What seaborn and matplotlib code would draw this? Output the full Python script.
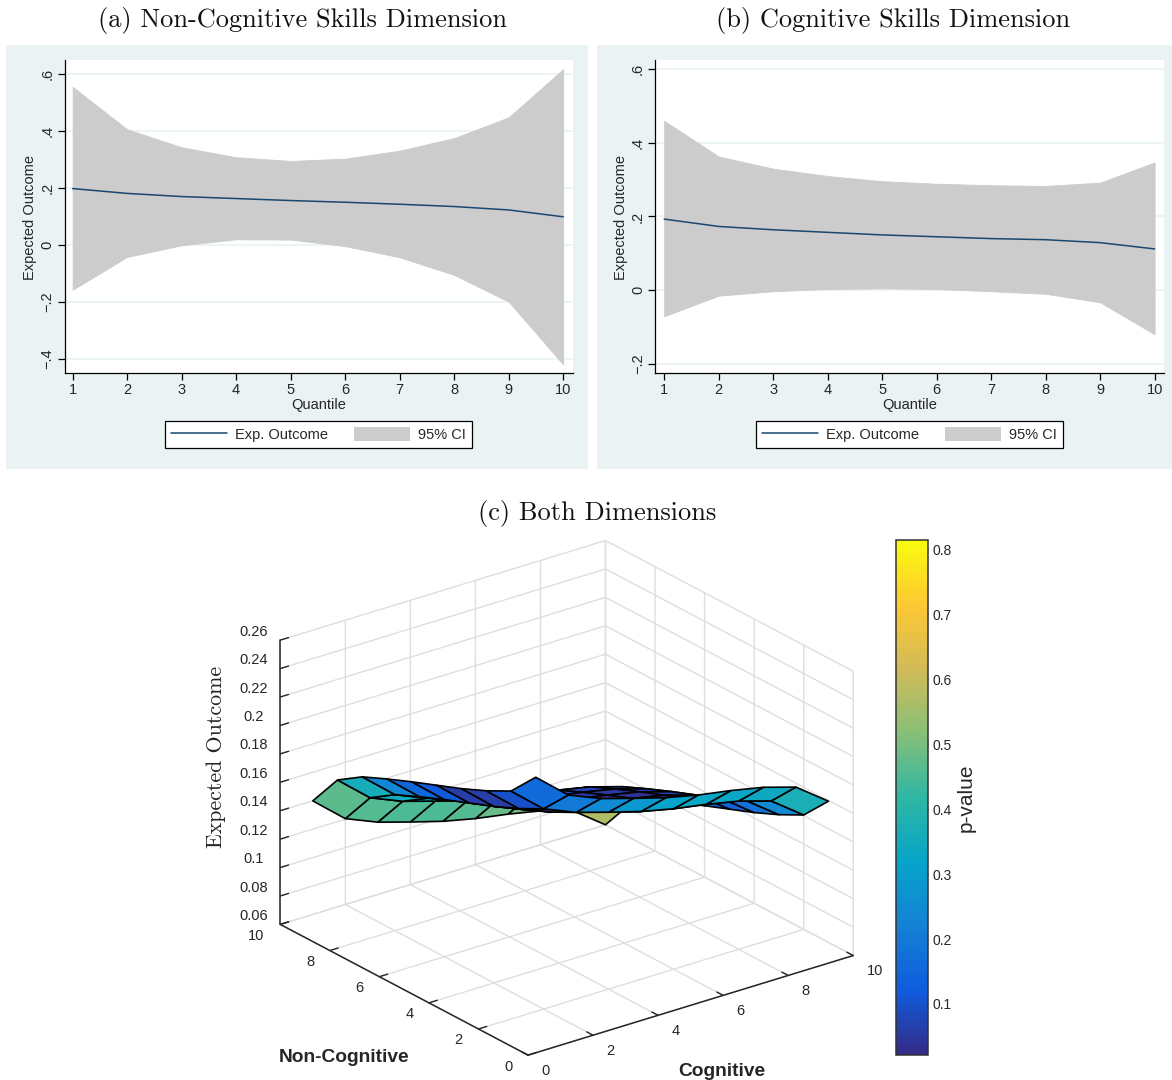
import numpy as np
import pandas as pd
import matplotlib
matplotlib.use("Agg")
import matplotlib.pyplot as plt
import seaborn as sns
from matplotlib.cm import ScalarMappable
from matplotlib.colors import LinearSegmentedColormap, Normalize
from matplotlib.patches import Patch, Rectangle

# Data
quantiles = [1, 2, 3, 4, 5, 6, 7, 8, 9, 10]

noncog_mean = [.197, .180, .169, .162, .155, .149, .142, .134, .122, .098]
noncog_upper = [.554, .405, .342, .307, .294, .302, .330, .374, .447, .616]
noncog_lower = [-.158, -.043, -.002, .019, .018, -.005, -.044, -.106, -.200, -.420]

cog_mean = [.193, .173, .164, .157, .150, .145, .140, .137, .129, .112]
cog_upper = [.460, .363, .330, .310, .296, .289, .285, .283, .292, .347]
cog_lower = [-.071, -.015, -.003, .003, .005, .003, -.003, -.010, -.033, -.120]

# surface heights, rows = non-cognitive 1..10, columns = cognitive 1..10
surface_z = [
    [.2393, .2198, .2103, .2034, .1969, .1918, .1879, .1832, .1763, .1594],
    [.2204, .2009, .1914, .1845, .1780, .1729, .1690, .1643, .1574, .1405],
    [.2114, .1919, .1824, .1755, .1690, .1639, .1600, .1553, .1484, .1315],
    [.2037, .1842, .1747, .1678, .1613, .1562, .1523, .1476, .1407, .1238],
    [.1969, .1774, .1679, .1610, .1545, .1494, .1455, .1408, .1339, .1170],
    [.1901, .1706, .1611, .1542, .1477, .1426, .1387, .1340, .1271, .1102],
    [.1829, .1634, .1539, .1470, .1405, .1354, .1315, .1268, .1199, .1030],
    [.1752, .1557, .1462, .1393, .1328, .1277, .1238, .1191, .1122, .0953],
    [.1638, .1443, .1348, .1279, .1214, .1163, .1124, .1077, .1008, .0839],
    [.1399, .1204, .1109, .1040, .0975, .0924, .0885, .0838, .0769, .0600],
]
# p-value of each surface cell
surface_p = [
    [.16, .20, .25, .29, .32, .33, .33, .34, .37],
    [.10, .04, .03, .04, .04, .05, .08, .16, .25],
    [.06, .03, .03, .03, .03, .04, .05, .09, .18],
    [.06, .05, .04, .03, .03, .03, .04, .07, .14],
    [.12, .10, .08, .05, .04, .03, .04, .06, .12],
    [.15, .15, .12, .09, .06, .05, .05, .07, .12],
    [.24, .24, .20, .15, .10, .08, .08, .10, .15],
    [.36, .35, .32, .27, .20, .16, .14, .16, .22],
    [.47, .46, .45, .45, .46, .48, .50, .53, .57],
]

y_ticks_a = [-.4, -.2, 0, .2, .4, .6]
y_ticks_b = [-.2, 0, .2, .4, .6]
y_labels_a = ["\u2212.4", "\u2212.2", "0", ".2", ".4", ".6"]
y_labels_b = ["\u2212.2", "0", ".2", ".4", ".6"]
grid_ticks = [0, 2, 4, 6, 8, 10]
z_ticks = [.06, .08, .10, .12, .14, .16, .18, .20, .22, .24, .26]
z_labels = ["0.06", "0.08", "0.1", "0.12", "0.14", "0.16", "0.18", "0.2", "0.22", "0.24", "0.26"]
p_ticks = [.1, .2, .3, .4, .5, .6, .7, .8]
p_labels = ["0.1", "0.2", "0.3", "0.4", "0.5", "0.6", "0.7", "0.8"]

W, H = 1172, 1080
PANEL_BG = "#eaf2f3"
NAVY = "#1a476f"
CI_GREY = "#cccccc"
TEXT = "#262626"

sns.set_theme(style="white")
plt.rcParams["font.family"] = ["Liberation Sans", "DejaVu Sans"]
plt.rcParams["grid.color"] = "#dedede"
plt.rcParams["grid.linewidth"] = 1.0
plt.rcParams["axes3d.grid"] = True

parula = LinearSegmentedColormap.from_list(
    "parula",
    ["#352a87", "#0f5cdd", "#1481d6", "#06a4ca", "#2eb7a4",
     "#87bf77", "#d1bb59", "#fec832", "#f9fb0e"],
)
p_norm = Normalize(vmin=.0215, vmax=.814)


def px_box(left, top, right, bottom):
    return [left / W, 1 - bottom / H, (right - left) / W, (bottom - top) / H]


def stata_panel(fig, bg, plot, xlim, ylim, mean, upper, lower, yticks, ylabels, legend_center, ylabel_x):
    fig.add_artist(Rectangle((bg[0] / W, 1 - bg[3] / H), (bg[2] - bg[0]) / W, (bg[3] - bg[1]) / H,
                             transform=fig.transFigure, color=PANEL_BG, lw=0, zorder=-5))
    ax = fig.add_axes(px_box(*plot))
    ax.set_facecolor("white")
    for y in yticks:
        ax.axhline(y, color=PANEL_BG, lw=1.2, zorder=0)
    ax.fill_between(quantiles, lower, upper, color=CI_GREY, lw=0.6, zorder=1)
    df = pd.DataFrame({"quantile": quantiles, "mean": mean})
    sns.lineplot(data=df, x="quantile", y="mean", color=NAVY, lw=1.1, ax=ax, errorbar=None, zorder=2)
    ax.set_xlim(*xlim)
    ax.set_ylim(*ylim)
    ax.set_xticks(quantiles)
    ax.set_yticks(yticks)
    ax.set_yticklabels(ylabels, rotation=90, va="center")
    ax.tick_params(axis="both", direction="out", length=5, width=0.9, color="black",
                   labelsize=10.5, labelcolor=TEXT, pad=2.5, left=True, bottom=True)
    for side in ["top", "right"]:
        ax.spines[side].set_visible(False)
    for side in ["left", "bottom"]:
        ax.spines[side].set_color("black")
        ax.spines[side].set_linewidth(0.9)
    ax.set_xlabel("Quantile", fontsize=10.5, color=TEXT, labelpad=0.3)
    ax.set_ylabel("")
    fig.text(ylabel_x / W, 1 - 217 / H, "Expected Outcome", rotation=90, fontsize=10.5,
             color=TEXT, ha="center", va="center")
    handles = [plt.Line2D([], [], color=NAVY, lw=1.1), Patch(color=CI_GREY, lw=0)]
    leg = ax.legend(handles, ["Exp. Outcome", "95% CI"], ncol=2, loc="center",
                    bbox_to_anchor=(legend_center[0] / W, 1 - legend_center[1] / H),
                    bbox_transform=fig.transFigure, fontsize=10.5, frameon=True, fancybox=False,
                    edgecolor="black", facecolor="white", framealpha=1, handlelength=3.85,
                    handleheight=1.05, handletextpad=0.55, columnspacing=1.8, borderpad=0.42,
                    borderaxespad=0)
    leg.get_frame().set_linewidth(0.9)
    for t in leg.get_texts():
        t.set_color(TEXT)
    return ax


fig = plt.figure(figsize=(W / 100, H / 100), dpi=100, facecolor="white")

stata_panel(fig, (6, 45, 588, 469), (64.7, 60, 573, 373), (.855, 10.18), (-.45, .648),
            noncog_mean, noncog_upper, noncog_lower, y_ticks_a, y_labels_a, (318.5, 434.5), 30)
stata_panel(fig, (597, 45, 1172, 469), (655.3, 60, 1163.5, 373), (.837, 10.163), (-.225, .625),
            cog_mean, cog_upper, cog_lower, y_ticks_b, y_labels_b, (909.5, 434.5), 621)

for x, y, txt in [(302, 20, "(a) Non-Cognitive Skills Dimension"),
                  (893, 20, "(b) Cognitive Skills Dimension"),
                  (597, 514, "(c) Both Dimensions")]:
    fig.text(x / W, 1 - y / H, txt, family="cmr10", fontsize=19, color="#111111", ha="center", va="center")

# 3D surface
ax3 = fig.add_axes(px_box(239.6, 487.9, 876.7, 1125), projection="3d", proj_type="ortho")
ax3.patch.set_alpha(0)
ax3.view_init(elev=23.7, azim=-127.3)
ax3.set_box_aspect((410, 410, 311.3))
cog_grid, noncog_grid = np.meshgrid(quantiles, quantiles)
surf = ax3.plot_surface(cog_grid, noncog_grid, np.array(surface_z),
                        facecolors=parula(p_norm(np.array(surface_p))),
                        rstride=1, cstride=1, shade=False, linewidth=1.2, antialiased=True)
surf.set_edgecolor("black")
ax3.set_xlim(0, 10, view_margin=0)
ax3.set_ylim(0, 10, view_margin=0)
ax3.set_zlim(.06, .26, view_margin=0)
ax3.set_xticks(grid_ticks)
ax3.set_yticks(grid_ticks)
ax3.set_zticks(z_ticks)
ax3.set_zticklabels(z_labels)
ax3.tick_params(axis="both", labelsize=10.5, labelcolor=TEXT)
ax3.tick_params(axis="x", pad=5)
ax3.tick_params(axis="y", pad=3.5)
ax3.tick_params(axis="z", pad=3)
for axis in [ax3.xaxis, ax3.yaxis, ax3.zaxis]:
    axis.set_pane_color((1, 1, 1, 0))
    axis.pane.set_edgecolor("#dedede")
    axis.line.set_color("#262626")
    axis.line.set_linewidth(1.1)
    axis._axinfo["tick"]["inward_factor"] = 0
    axis._axinfo["tick"]["outward_factor"] = 0.32
    axis._axinfo["tick"]["linewidth"] = {True: 1.0, False: 1.0}
for lab in ax3.get_xticklabels():
    lab.set_ha("left")
    lab.set_va("bottom")
for lab in ax3.get_yticklabels():
    lab.set_ha("right")
    lab.set_va("bottom")
for lab in ax3.get_zticklabels():
    lab.set_va("bottom")

fig.text(216 / W, 1 - 756.5 / H, "Expected Outcome", family="cmr10", rotation=90, fontsize=15.8,
         color=TEXT, ha="center", va="center")
fig.text(344 / W, 1 - 1058 / H, "Non-Cognitive", fontsize=13.8, fontweight="bold", color=TEXT,
         ha="center", va="center")
fig.text(722 / W, 1 - 1071 / H, "Cognitive", fontsize=13.8, fontweight="bold", color=TEXT,
         ha="center", va="center")

# colour bar
cax = fig.add_axes(px_box(896, 540, 928, 1055))
cb = fig.colorbar(ScalarMappable(norm=p_norm, cmap=parula), cax=cax)
cb.set_ticks(p_ticks, labels=p_labels)
cb.ax.tick_params(direction="in", length=4.3, width=0.8, labelsize=10, labelcolor=TEXT, color="#262626", pad=3.5)
cb.outline.set_edgecolor("#333333")
cb.outline.set_linewidth(1.1)
fig.text(966 / W, 1 - 798 / H, "p-value", rotation=90, fontsize=15, color=TEXT, ha="center", va="center")

fig.savefig("out.png", dpi=100)
